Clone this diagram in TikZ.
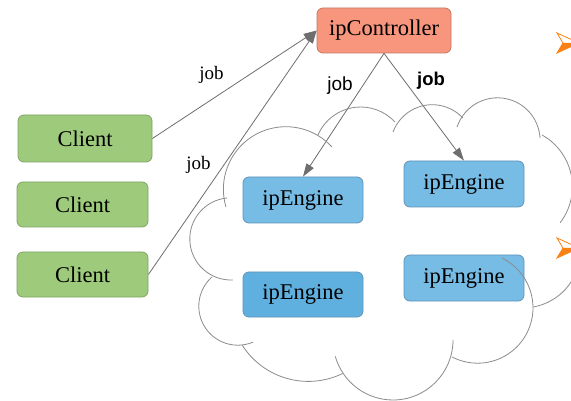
\documentclass[tikz,border=0pt]{standalone}
\usepackage{fontspec}
\setmainfont{Liberation Serif}
\newfontfamily\labsans{Liberation Sans}
\usetikzlibrary{arrows.meta}
\definecolor{ctrlfill}{RGB}{247,150,124}
\definecolor{ctrldraw}{RGB}{196,120,100}
\definecolor{clientfill}{RGB}{158,202,124}
\definecolor{clientdraw}{RGB}{128,164,100}
\definecolor{engfill}{RGB}{118,188,229}
\definecolor{engfilldark}{RGB}{96,176,223}
\definecolor{engdraw}{RGB}{96,148,184}
\definecolor{edgegray}{RGB}{110,110,110}
\definecolor{cloudgray}{RGB}{140,140,140}
\definecolor{bulletorange}{RGB}{250,130,20}
\newcommand\cloudarc[4]{\draw[cloudline] (#1) ++(#2:#4) arc[start angle=#2, end angle=#3, radius=#4];}
\begin{document}
\begin{tikzpicture}[x=1pt,y=-1pt,
  box/.style={rounded corners=6pt, line width=0.8pt, inner sep=0pt,
    font=\fontsize{22.5}{27}\selectfont},
  ctrlbox/.style={box, fill=ctrlfill, draw=ctrldraw, minimum width=134pt, minimum height=45pt},
  clientbox/.style={box, fill=clientfill, draw=clientdraw, minimum width=131pt, minimum height=45pt},
  engbox/.style={box, fill=engfill, draw=engdraw, minimum width=120pt, minimum height=46pt},
  conn/.style={draw=edgegray, line width=0.8pt, -{Triangle[length=13pt,width=8.5pt]}},
  cloudline/.style={draw=cloudgray, line width=0.8pt},
  serifjob/.style={font=\fontsize{19}{22}\selectfont, inner sep=0pt},
  sansjob/.style={font=\labsans\fontsize{19}{22}\selectfont, inner sep=0pt},
  boldjob/.style={font=\labsans\bfseries\fontsize{18.5}{22}\selectfont, inner sep=0pt}
]
\clip (0,0) rectangle (571,401);
\fill[white] (0,0) rectangle (571,401);

% nodes
\node[ctrlbox] (ctrl) at (384,30.5) {ipController};
\node[clientbox, minimum width=134pt, minimum height=47pt] (c1) at (85,138.5) {Client};
\node[clientbox] (c2) at (82.5,204.5) {Client};
\node[clientbox] (c3) at (82.5,274.5) {Client};
\node[engbox] (e1) at (303,200) {ipEngine};
\node[engbox] (e2) at (464,184) {ipEngine};
\node[engbox, fill=engfilldark, minimum height=45pt] (e3) at (303,294.5) {ipEngine};
\node[engbox] (e4) at (464,278) {ipEngine};

% connectors
\draw[conn] (c1.east) -- (ctrl.west);
\draw[conn] (c3.east) -- (ctrl.west);
\draw[conn] (ctrl.south) -- (e1.north);
\draw[conn] (ctrl.south) -- (e2.north);

% labels
\node[serifjob] (j1) at (211.5,75) {job};
\node[serifjob] (j2) at (198.5,165) {job};
\node[sansjob] (j3) at (340,86) {job};
\node[boldjob] (j4) at (431,81) {job};

% cloud
\cloudarc{285.9,189.2}{163.4}{317.5}{62.5}
\cloudarc{360.7,153.6}{203.5}{317.4}{46.6}
\cloudarc{432.3,146.6}{200.4}{317}{41.9}
\cloudarc{497.5,140.4}{198.3}{356.8}{42.6}
\cloudarc{513.2,186.7}{-61}{37.5}{59.2}
\cloudarc{523.1,250.5}{5}{80}{57.4}
\cloudarc{477.6,307.8}{-63.9}{117.5}{55.4}
\cloudarc{393,340}{0}{164.2}{60}
\cloudarc{308.3,303}{64}{147.6}{78.4}
\cloudarc{237.8,306.2}{67}{228.5}{39}
\cloudarc{230.9,238.9}{87.1}{264.6}{41.1}

% bullets
\fill[bulletorange] (563,43) -- (579,43) -- (557,53) -- cycle;
\draw[bulletorange, line width=0.8pt] (557,33) -- (579,43) -- (557,53) -- (563,43) -- cycle;
\fill[bulletorange] (563,248) -- (579,248) -- (557,258) -- cycle;
\draw[bulletorange, line width=0.8pt] (557,238) -- (579,248) -- (557,258) -- (563,248) -- cycle;
\end{tikzpicture}
\end{document}
